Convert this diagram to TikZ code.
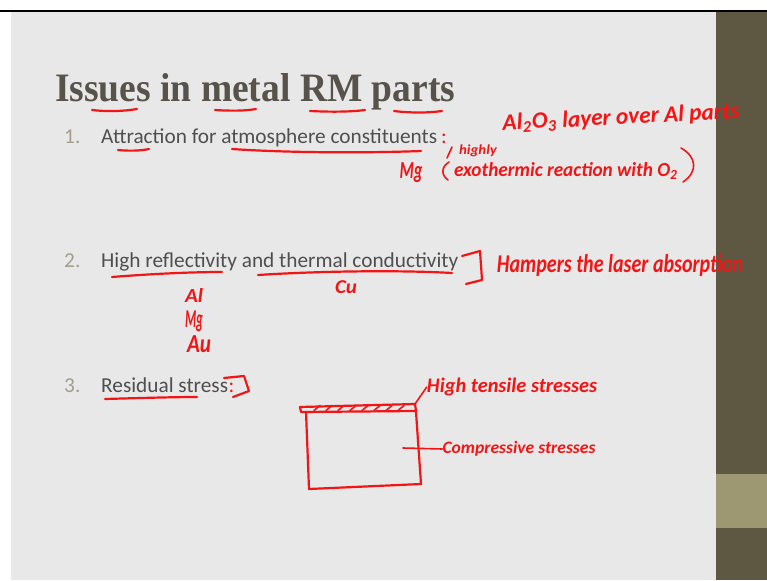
\documentclass[tikz,border=0pt]{standalone}
\usepackage{fontspec}
\usepackage{graphicx}
\setmainfont{Carlito}
\newfontfamily\titlefont{Liberation Serif}
\newfontfamily\handfont{Carlito}
\definecolor{slidebg}{HTML}{E8E8E8}
\definecolor{bandcol}{HTML}{5E5742}
\definecolor{olivecol}{HTML}{9D9872}
\definecolor{titlecol}{HTML}{58534A}
\definecolor{textcol}{HTML}{4F4F4F}
\definecolor{numcol}{HTML}{A39F8C}
\definecolor{pen}{HTML}{F31515}
\newcommand\hw[3]{\resizebox*{#1}{#2}{\handfont\bfseries\itshape #3}}
\tikzset{
  body/.style={anchor=base west, inner sep=0pt, text=textcol, font=\fontsize{21.3}{25}\selectfont},
  numstyle/.style={body, text=numcol},
  hand/.style={inner sep=0pt, text=pen},
  redpen/.style={draw=pen, line width=2.2pt, line cap=round, line join=round},
  thinpen/.style={draw=pen, line width=1.6pt, line cap=round, line join=round}
}
\begin{document}
\begin{tikzpicture}[x=1pt,y=-1pt]
\useasboundingbox (0,0) rectangle (767,580);
% slide background
\fill[white] (0,0) rectangle (767,580);
\fill[black] (0,10) rectangle (767,12.5);
\fill[slidebg] (11,12.5) rectangle (716,580);
\fill[bandcol] (716,12.5) rectangle (767,580);
\fill[olivecol] (716,474) rectangle (767,528);

% title
\node[anchor=base west, inner sep=0pt, text=titlecol] (title) at (55,102)
  {\resizebox{400pt}{28pt}{\titlefont\bfseries Issues in metal RM parts}};
\draw[redpen] (92,110) .. controls (110,112) and (125,111) .. (137,109);
\draw[redpen] (215,110) .. controls (230,111) and (245,111) .. (256,109);
\draw[redpen] (310,111) .. controls (330,112) and (350,112) .. (365,110);
\draw[redpen] (394,111) .. controls (410,113) and (428,113) .. (442,111);

% item 1
\node[numstyle] (n1) at (64,144) {1.};
\node[body] (t1) at (101,144) {Attraction for atmosphere constituents};
\node[body, text=pen, anchor=base west] (c1) at (t1.base east) {\,:};
\draw[redpen] (118,150) .. controls (128,151) and (140,151) .. (149,149);
\draw[redpen] (232,149) .. controls (290,153) and (370,153) .. (421,151);

% annotations item 1
\node[hand, rotate=3] (a1) at (621,118) {\hw{237pt}{20pt}{Al\textsubscript{2}O\textsubscript{3} layer over Al parts}};
\node[hand] (a2) at (478,151) {\hw{38pt}{12pt}{highly}};
\node[hand] (a3) at (411,173) {\hw{23pt}{20pt}{Mg}};
\node[hand] (a4) at (566,171) {\hw{224pt}{17pt}{exothermic reaction with O\textsubscript{2}}};
\draw[thinpen] (447,158) -- (452,147);
\draw[thinpen] (449,162) .. controls (441,167) and (441,175) .. (448,180);
\draw[thinpen] (681,148) .. controls (697,157) and (698,172) .. (683,182);

% item 2
\node[numstyle] (n2) at (64,267) {2.};
\node[body] (t2) at (101,267) {High reflectivity and thermal conductivity};
\draw[redpen] (112,277) .. controls (150,274) and (190,272) .. (222,272);
\draw[redpen] (258,275) .. controls (320,271) and (400,270) .. (452,273);
\draw[redpen] (462,256) -- (480,251) -- (482,280) -- (466,284);
\node[hand] (a5) at (620,266) {\hw{246pt}{22pt}{Hampers the laser absorption}};
\node[hand] (a6) at (346,287) {\hw{22pt}{13pt}{Cu}};
\node[hand] (a7) at (194,295) {\hw{18pt}{14pt}{Al}};
\node[hand] (a8) at (194,321) {\hw{18pt}{21pt}{Mg}};
\node[hand] (a9) at (199,344) {\hw{24pt}{17pt}{Au}};

% item 3
\node[numstyle] (n3) at (64,392) {3.};
\node[body] (t3) at (101,392) {Residual stress};
\node[body, text=pen, anchor=base west] (c3) at (t3.base east) {:};
\draw[redpen] (105,399) .. controls (140,398) and (175,397) .. (197,397);
\draw[redpen] (224,378) -- (244,376) -- (249,391) -- (233,397);

% sketch of the part
\coordinate (lt) at (300,407);
\coordinate (rt) at (415,404);
\coordinate (lb) at (301,412);
\coordinate (rb) at (416,411);
\coordinate (bl) at (309,489);
\coordinate (br) at (421,484);
\coordinate (tick) at (403,448);
\draw[redpen] (lt) -- (rt) -- (rb) -- (lb) -- cycle;
\draw[redpen] (306,412) -- (bl) -- (br) -- (416,412);
\foreach \hx in {314,326,338,350,362,374,386,398}
  \draw[thinpen] (\hx,410.5) -- (\hx+6,405.5);
\node[hand] (a10) at (512,387) {\hw{170pt}{18pt}{High tensile stresses}};
\draw[thinpen] (rt) -- (a10.west);
\node[hand] (a11) at (519,449) {\hw{153pt}{15pt}{Compressive stresses}};
\draw[thinpen] (tick) -- (a11.west);
\end{tikzpicture}
\end{document}
